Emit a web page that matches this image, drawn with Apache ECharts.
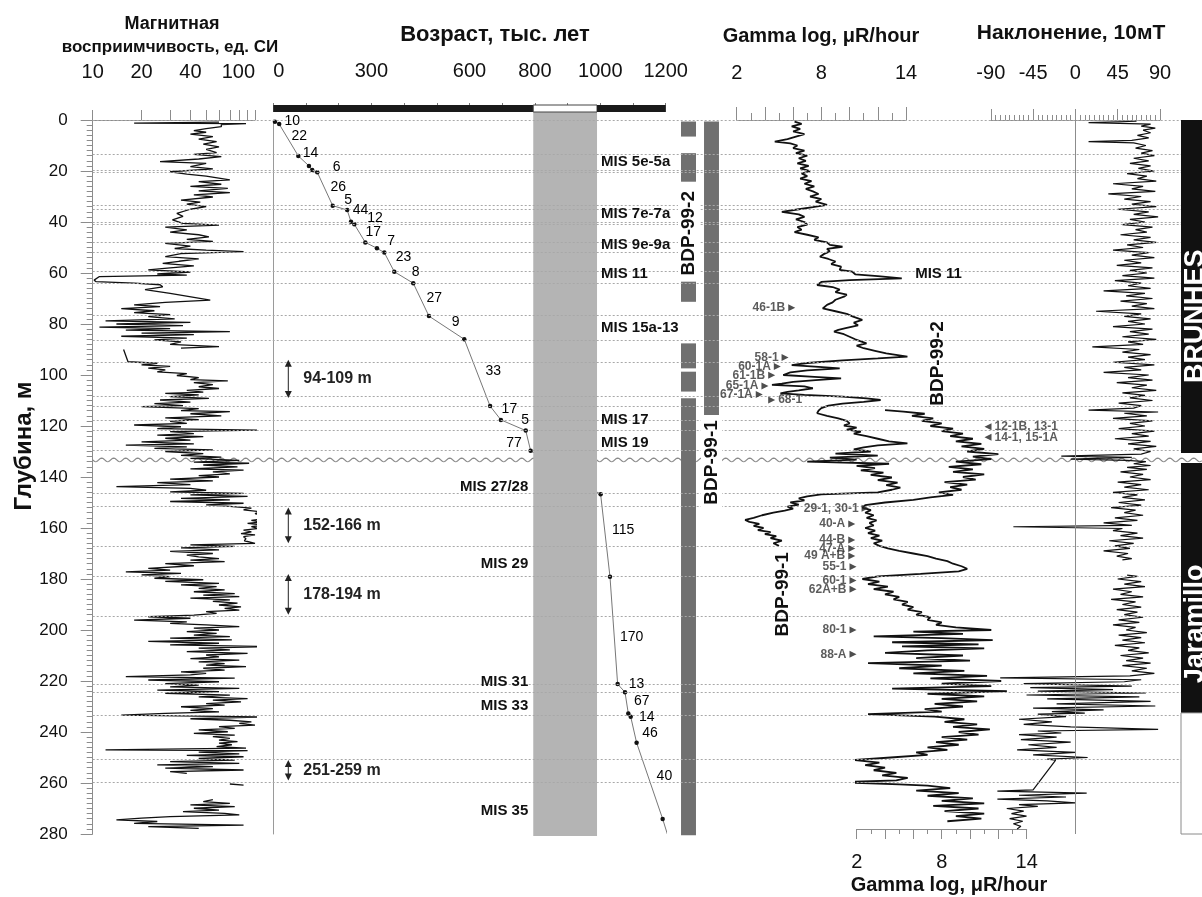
<!DOCTYPE html>
<html>
<head>
<meta charset="utf-8">
<script src="https://cdn.jsdelivr.net/npm/echarts@6/dist/echarts.min.js"></script>
<style>
html,body{margin:0;padding:0;background:#fff}
#chart{width:1202px;height:897px}
</style>
</head>
<body>
<div id="chart"></div>
<script>
const FONT = '"Liberation Sans", Arial, Helvetica, sans-serif';
const DEPTH_MAX = 280;

// ---------- data ----------
// magnetic susceptibility, [depth m, SI units]; null = no core
const magProfile = [
[0.8,60],[1.2,18],[1.4,88],[1.8,62],[2.6,62],[3.4,50],[4.2,42],[4.8,50],[5.5,40],[6.5,55],[7.5,45],[8.5,58],[9.5,48],[10.5,60],[11.5,50],[12.8,58],[13.5,42],[14.4,62],[15.3,45],[16.3,26],[17,50],[18.3,40],[19.2,55],[20.3,30],[21.2,38],[22,50],[23.5,70],[24.2,45],[25.2,62],[26,40],[26.8,68],[27.8,45],[28.5,70],[29.4,42],[30.2,55],[31.4,35],[32.2,46],[33,38],[34,50],[35,40],[36.6,33],[37.8,36],[39.2,31],[40.5,36],[41.2,60],[42,28],[43.1,38],[44,30],[45,45],[45.8,52],[46.8,38],[47.6,55],[48.4,28],[49.5,40],[50.4,32],[51,50],[51.6,85],[52.4,35],[53.6,28],[54.5,45],[55.4,34],[56.2,27],[57.2,42],[58,30],[58.8,22],[59.6,40],[60.4,25],[60.8,38],[61.4,11],[62.8,10.2],[63.4,10.5],[64,18],[64.6,26],[65.4,27],[66.5,21],[68,30],[70.6,53],[71.5,28],[72.5,18],[73.2,26],[74,15],[74.8,24],[75.5,18],[76.3,30],[77.1,22],[78,32],[78.8,12],[79.4,40],[80,14],[80.6,36],[81.2,11],[81.8,30],[82.4,16],[83,70],[83.6,20],[84.2,42],[84.8,15],[85.5,38],[86.2,24],[87,35],[88,30],[88.9,60],[89.5,35],
null,
[90,15.5],[94.8,16.5],[95.4,25],[96,20],[96.6,30],[97.3,22],[98,28],[98.8,25],[99.5,38],[100.2,33],[101,45],[101.8,40],[102.3,68],[103,42],[103.8,55],[104.6,45],[105.3,60],[106,38],[106.7,48],[107.2,28],[107.8,45],[108.5,30],[109.2,52],[109.8,26],[110.6,40],[111.2,24],[112,36],[112.4,20],[113.2,45],[114,35],[114.4,70],[115.2,40],[116,62],[116.8,28],[117.5,45],[118.2,30],[119,38],[119.6,18],[120.3,35],[121,25],[121.6,105],[122.2,30],[123,42],[123.6,25],[124.2,48],[124.8,28],[125.5,40],[126.2,20],[127,42],[127.5,16],[128.2,38],[128.8,24],[129.4,55],[130,28],[130.8,48],[131.5,35],[132.2,62],[132.7,40],[133.5,80],[134.2,42],[134.6,92],[135.3,48],[136,78],[136.8,40],[137.3,85],[138,55],[138.8,70],[139.5,45],[140,60],[140.8,30],[141.5,55],[142.2,25],[143,40],[143.8,14],[144.5,40],[145.2,50],[145.8,30],[146.4,85],[147,40],[147.6,90],[148.4,35],[149,70],[149.6,30],[150.3,85],[150.9,50],[151.5,70],[152.2,95],[152.9,85],[153.6,108],[154.4,100],[155,118],[155.6,110],[156.3,118],[157,95],[157.6,108],[158.2,90],[158.8,115],[159.5,95],[160.2,105],[160.8,85],[161.5,95],[162.2,82],[162.7,100],[163.4,85],[164.2,88],[165,86],[166,100],[166.6,40],[167.2,75],[167.8,35],[168.6,60],[169.2,30],[170,55],[170.6,38],[171.3,45],[172,60],[172.6,40],[173.2,65],[174,28],[174.8,42],[175.8,22],[176.5,30],[177.2,16],[177.8,35],[178.4,20],[179.1,30],[179.7,24],[180.3,48],[180.9,28],[181.7,60],[182.3,35],[183,58],[183.7,45],[184.3,65],[185,42],[185.7,75],[186.3,48],[186.9,80],[187.5,40],[188.2,70],[188.8,55],[189.5,78],[190.2,60],[190.9,82],[191.5,65],[192.2,80],[192.8,50],[193.5,58],[194.2,42],[194.8,22],[195.4,40],[196.1,18],[196.8,38],[197.4,30],[198,50],[198.7,80],[199.3,42],[200,60],[200.6,38],[201.3,58],[202,42],[202.6,70],[203.2,30],[203.9,72],[204.5,22],[205.2,60],[205.8,30],[206.5,120],[207.1,45],[207.8,70],[208.5,38],[209.2,90],[209.8,50],[210.5,60],[211.2,40],[211.8,80],[212.5,45],[213.2,65],[213.8,50],[214.4,88],[215,48],[215.7,65],[216.4,35],[217,50],[217.6,40],[218.3,16],[218.9,75],[219.6,22],[220.3,60],[221,28],[221.6,45],[222.3,30],[222.9,80],[223.6,25],[224.2,60],[224.8,28],[225.5,70],[226.2,45],[226.9,90],[227.5,55],[228.2,82],[228.9,50],[229.5,65],[230.1,35],[230.8,55],[231.5,40],[232.1,60],[232.7,28],[233.4,15],[234.1,110],[234.8,40],[235.4,70],[236,95],[236.6,80],[237.3,100],[237.9,60],[238.6,75],[239.2,45],[239.9,68],[240.5,42],[241.2,75],[241.8,55],[242.5,70],[243.2,60],[243.8,78],[244.4,60],[245,72],[245.7,58],[246.3,88],[247,12],[247.3,90],[247.9,45],[248.6,80],[249.2,38],[249.7,85],[250.4,45],[251,75],[251.6,30],[252.3,80],[252.9,25],[253.6,55],[254.2,28],[254.9,85],[255.5,30],[256.2,38],
null,
[260.4,70],[260.8,85],
null,
[266.5,55],[267.3,48],[268,70],[268.6,40],[269.3,75],[269.9,42],[270.6,60],[271.2,36],[271.9,65],[272.5,80],[273.2,30],[273.8,20],[274.5,14],[275.1,25],[275.8,18],[276.5,85],[277.1,22],[277.8,45]
];
const magTickValues = [10,20,30,40,50,60,70,80,90,100];
const magTickLabels = [10,20,40,100];

// age model: control points [age ka, depth m]; the last one only continues the line
const ageDepth = [[5,0.65],[18,1.6],[76.5,14.1],[109,18],[119,19.6],[134.5,20.5],[181.6,33.6],[226,35.3],[237.6,39.9],[247.8,40.9],[281.4,48],[317,50.3],[339.5,52],[370,59.5],[428,64],[476,76.9],[584,86],[663,112.2],[696,117.6],[772,121.8],[787,129.7],[1001,146.8],[1029.6,179.1],[1053,221.2],[1075.5,224.4],[1085.6,232.7],[1093,234],[1111,244.2],[1190.7,274.1],[1205,280]];
// sedimentation-rate annotations [text, age, depth]
const rateLabels = [['10',58,0.4],['22',79.5,6.5],['14',114,13.1],['6',194,18.3],['26',199,26.4],['5',229,31.6],['44',267,35.3],['12',311,38.5],['17',306,43.9],['7',360,47.7],['23',398,53.8],['8',435,59.5],['27',492,69.7],['9',558,79.3],['33',673,98.3],['17',722,113.3],['5',770,117.6],['77',736,126.8],['115',1070,161],['170',1096,202.9],['13',1111,221.3],['67',1127,227.8],['14',1142,234.2],['46',1152,240.5],['40',1196,257.3]];
const ageTickLabels = [0,300,600,800,1000,1200];
const hiatusAges = [795, 990];
const polarityBar = [[0,795,1],[795,990,0],[990,1200,1]];
const misRight = [['MIS 5e-5a',16.3],['MIS 7e-7a',37],['MIS 9e-9a',49],['MIS 11',60.5],['MIS 15a-13',81.7],['MIS 17',117.4],['MIS 19',126.5]];
const misLeft = [['MIS 27/28',143.8],['MIS 29',174.2],['MIS 31',220.3],['MIS 33',229.7],['MIS 35',270.9]];
const depthRanges = [[94,109,'94-109 m'],[152,166,'152-166 m'],[178,194,'178-194 m'],[251,259,'251-259 m']];

// recovered core intervals [top, bottom] m
const coreNames = ['BDP-99-2','BDP-99-1'];
const coreBdp992 = [[0.6,6.5],[13,24.2],[63.4,71.3],[87.6,97.4],[98.7,106.5],[109.1,280.5]];
const coreBdp991 = [[0.6,115.7]];
const coreLabels = [['BDP-99-2',0,44.4],['BDP-99-1',1,134.3]];

// gamma log, [depth m, µR/hour]
const gammaTop = [
[0.6,6.1],[1.5,6.6],[2.5,5.9],[3.5,6.5],[4.5,6.0],[5.5,6.8],[6.5,6.2],[7.5,5.6],[8.5,4.7],[9.2,5.8],[10,6.3],[11,6.0],[12,6.8],[13,6.2],[14,7.0],[15,6.4],[16,6.9],[17,6.3],[18,7.1],[19,6.5],[20,7.2],[21,6.6],[22,7.0],[23,6.5],[24,7.3],[25,6.8],[26,7.5],[27,6.9],[28,7.4],[29,7.8],[30,7.2],[31,8.0],[32,7.6],[33.3,8.4],[34.2,7.4],[35,6.4],[36,5.2],[37,6.4],[38,6.8],[39,6.2],[40,6.8],[41,7.0],[42,6.3],[43,6.6],[44,6.1],[45,7.0],[46,7.8],[47,7.5],[48,8.4],[49,8.6],[49.7,9.5],[50.5,8.4],[51.5,8.6],[52.5,8.2],[53.6,7.9],[54.5,8.5],[55.5,9.0],[56.5,8.7],[57.5,9.4],[58.8,9.3],[59.5,10.2],[60.5,10.4],[61.2,12.0],[62.1,13.7],[62.8,10.0],[63.5,8.0],[64.7,7.7],[65.5,8.8],[66.5,9.3],[67.5,9.0],[68.5,9.8],[69.3,9.6],[70.5,9.0],[71.5,8.8],[72.5,8.4],[73.9,8.1],[75,9.0],[76,9.8],[77,10.2],[78.4,10.9],[79.5,10.3],[80.5,10.6],[81.5,9.8],[82.3,9.2],[83,8.9],[84,9.6],[85,10.0],[86,10.4],[87,10.9],[87.6,11.2],[88.5,10.5],[89.5,11.0],[90.5,11.8],[91.5,12.6],[92.8,14.1],[93.5,12.0],[94.3,9.5],[95.3,7.0],[96.1,5.9],[96.8,7.8],[97.4,9.3],[98.2,7.0],[99,5.8],[100,5.3],[100.7,7.5],[101.3,9.4],[102,7.6],[102.7,6.0],[103.4,5.2],[103.9,4.5],[104.5,6.8],[105.2,7.4],[106,6.4],[106.6,5.6],[107.2,5.1],[107.8,6.8],[108.5,9.5],[109.2,11.2],[109.8,12.2],[110.5,11.0],[111.2,9.5],[112,8.5],[113,8.0],[114,7.8],[115,7.7],[116,8.4],[117,9.2],[118,9.8],[119,10.0],[119.8,9.6],[120.6,10.5],[121.4,9.8],[122.2,10.8],[123,10.3],[124,11.2],[125,12.0],[126,12.8],[126.8,14.1],[127.6,12.0],[128.4,11.0],[129.2,10.3],[130,11.5],[130.8,9.0],[131.6,12.0],[132.4,8.6],[133.2,10.5],[134,7.0],[134.8,12.8],[135.6,10.5],[136.5,11.8],[137.4,10.8],[138.3,12.4],[139.2,11.5],[140.2,13.0],[141.2,12.0],[142.2,13.4],[143.2,12.6],[144.2,13.6],[145,13.0],[146,12.0],[146.8,8.0],[147.6,7.0],[148.4,6.4],[149.2,6.8],[150,5.8],[150.8,6.4],[151.6,5.6],[152.4,6.0],[153.2,5.4],[154,4.6],[155,3.8],[156,3.2],[156.8,2.6],[157.6,2.9],[158.4,3.6],[159.2,3.2],[160,3.9],[160.8,3.5],[161.6,4.4],[162.4,4.0],[163.2,4.8],[164,4.4],[165,5.2],[166,4.6],[167,5.0]
];
const gammaBottom = [
[113.8,4.0],[114.4,5.3],[115.2,6.8],[116,5.9],[117,7.4],[118,6.6],[119,8.0],[120,7.2],[121,8.8],[122,8.0],[123,9.5],[124,8.6],[125,10.2],[126,9.0],[127,10.8],[128,9.4],[129,11.0],[130,9.8],[131,12.0],[132,10.2],[133,11.5],[134,9.0],[135,10.8],[136,8.5],[137,10.2],[138,8.8],[139,11.0],[140,9.5],[141,10.4],[142,8.2],[143,9.8],[144,8.6],[145,9.4],[146,7.8],[147,8.8],[148,7.2],[149,6.0],[150,4.0],[151,2.6],[152,2.4],[153,3.0],[154,2.6],[155,3.2],[156,2.7],[157,3.4],[158,2.9],[159,3.2],[160,2.6],[161,3.3],[162,2.8],[163,3.6],[164,3.0],[165,3.8],[166,3.2],[167,3.6],[168,4.2],[169,5.0],[170,6.0],[171,7.0],[172,7.6],[173,8.4],[174,8.8],[175,9.4],[176,9.8],[177,9.2],[178,6.5],[179,3.5],[180,2.4],[181,3.6],[182,2.8],[183,4.2],[184,3.2],[185,4.6],[186,4.0],[187,5.0],[188,4.6],[189,5.6],[190,5.2],[191,6.0],[192,5.6],[193,6.6],[194,6.2],[195,7.2],[196,7.0],[197,8.0],[198,7.6],[199,9.0],[200,11.5],[200.6,6.0],[201.5,9.5],[202.5,3.2],[203.2,8.0],[204,11.6],[204.8,4.5],[205.6,10.6],[206.4,5.2],[207.2,11.0],[208,7.0],[209,4.0],[210,9.5],[211,6.2],[212,10.0],[213,2.8],[214,8.0],[215,5.0],[216,9.6],[217,6.0],[218,11.2],[219,7.2],[220,12.2],[221,8.0],[222,11.5],[223,4.5],[224,12.6],[225,7.0],[226,11.0],[227,8.0],[228,10.5],[229,7.5],[230,9.5],[231,6.8],[232,8.0],[233,2.8],[234,7.5],[235,9.6],[236,8.2],[237,10.5],[238,8.8],[239,11.4],[240,9.2],[241,10.6],[242,8.0],[243,9.8],[244,7.6],[245,9.2],[246,7.0],[247,8.4],[248,6.2],[249,7.0],[250,4.4],[251,1.8],[252,3.6],[253,2.6],[254,4.0],[255,3.2],[256,4.8],[257,3.8],[258,5.6],[259,4.8],[259.6,1.4],[259.7,-8.1],[259.8,1.4],[260.5,5.0],[261,7.0],[262,8.6],[263,6.2],[264,9.2],[265,7.0],[266,10.2],[267,8.0],[268,11.0],[269,7.4],[270,10.6],[271,8.2],[272,11.0],[273,9.0],[274,10.8],[275,8.4]
];
const gammaTickLabels = [2,8,14];
// sampled horizons [sample, µR/hour at arrow, depth]
const tagsUpper = [['46-1B',5.9,73.6],['58-1',5.43,93.1],['60-1A',4.88,96.7],['61-1B',4.48,100.1],['65-1A',4.0,104.3],['67-1A',3.6,107.6]];
const tagsUpperAfter = [['68-1',4.48,109.8]];
const tagsLowerBack = [['12-1B, 13-1',11.27,120.3],['14-1, 15-1A',11.27,124.4]];
const tagsLower = [['29-1, 30-1',2.59,152.3],['40-A',1.65,158.4],['44-B',1.65,164.7],['47-A',1.65,168],['49 A+B',1.65,171],['55-1',1.74,175.2],['60-1',1.74,180.6],['62A+B',1.74,184],['80-1',1.74,200],['88-A',1.74,209.5]];
const gammaNames = [['BDP-99-1',5.28,186],['BDP-99-2',7.74,95.5]];
const gammaMis = [['MIS 11',14.65,60.4]];

// inclination after 10 mT cleaning, [depth m, degrees]
const inclination = [
[0.5,65],[1,14],[1.6,80],[2.4,70],[3.2,85],[4,72],[5,80],[6,66],[7,78],[8,60],[8.5,14],[9,62],[10,75],[11,64],[12,82],[13,70],[14,84],[15,62],[16,78],[17,58],[18,80],[19,67],[20,84],[21,55],[22,76],[23,66],[24,86],[25,40],[26,72],[27,60],[28,85],[29,35],[30,70],[31,52],[32,80],[33,60],[34,86],[35,45],[36,78],[37,62],[38,88],[39,58],[40,74],[41,50],[42,82],[43,64],[44,76],[45,48],[46,80],[47,62],[48,86],[49,55],[50,72],[51,40],[52,78],[53,60],[54,84],[55,52],[56,70],[57,44],[58,82],[59,58],[60,76],[61,50],[62,84],[63,42],[64,70],[65,56],[66,80],[67,30],[68,74],[69,54],[70,82],[71,48],[72,76],[73,60],[74,84],[75,22],[76,70],[77,52],[78,80],[79,56],[80,74],[81,40],[82,82],[83,58],[84,78],[85,50],[86,86],[87,56],[88,72],[89,18],[90,68],[91,50],[92,80],[93,56],[94,74],[95,40],[96,84],[97,52],[98,70],[99,30],[100,78],[101,56],[102,82],[103,44],[104,76],[105,60],[106,86],[107,50],[108,74],[109,58],[110,82],[111,46],[112,70],[113,62],[113.8,14],[114.5,88],[115,52],[116,76],[117,40],[118,82],[119,58],[120,74],[121,46],[122,84],[123,60],[124,78],[125,42],[126,80],[127,56],[128,86],[129,62],[130,80],[131,70],[131.8,-15],[132.3,60],[133,-5],[133.5,55],[134,75],
[134.8,62],[135.5,80],[136.2,55],[137,76],[138,48],[139,72],[140,58],[141,80],[142,45],[143,70],[144,52],[145,78],[146,40],[147,66],[148,50],[149,74],[150,46],[151,70],[152,38],[153,64],[154,52],[155,72],[156,42],[157,66],[158,30],[159,60],[159.5,-66],[160.2,50],[161,40],[162,66],[163,48],[164,72],[165,36],[166,62],[167,42],[168,58],[169,30],[170,56],[171,44],[172,60],[172.5,50],
null,
[178.5,55],[179,66],[180,45],[181,70],[182,52],[183,74],[184,40],[185,60],[186,48],[187,72],[188,38],[189,64],[190,50],[191,70],[192,44],[193,66],[194,52],[195,72],[196,46],[197,68],[198,40],[199,64],[200,54],[201,76],[202,46],[203,70],[204,50],[205,74],[206,42],[207,68],[208,56],[209,78],[210,48],[211,72],[212,54],[213,80],[214,50],[215,76],[216,60],[217,84],[218,58],[218.8,-80],[219.5,70],[220.3,52],[221,-55],[222,60],[222.6,-48],[223.4,40],[224,-40],[224.7,75],[225.5,-52],[226.2,68],[227,-30],[228,80],[229,-20],[229.8,85],[230.6,-45],[231.3,30],[232,-25],[232.6,10],
[233,-40],[234,-10],[235,-60],[236,-25],[237,-55],[238,-5],[239,88],[239.6,-40],[240.4,-15],[241,-60],[242,-20],[243,-58],[244,-5],[245,-50],[246,-20],[247,-62],[248,0],[249,-45],[250,13],[250.6,-30],[251,-21],[262.7,-45],[263.2,-83],[264,12],[264.8,-60],[265.5,-10],[266.3,-83],[267,-30],[267.8,0],[268.5,-60],[269.2,-40],[270,-73],[271,-55],[272,-68],[273,-52],[274,-70],[275,-56],[276,-66],[277,-58],[278,-62]
];

// polarity zones in depth [top, bottom, normal?]
const magStrat = [[0,130.6,1],[134.5,232.5,1],[232.5,280,0]];
const stratLabels = [['BRUNHES',77],['Jaramillo',197.6]];

// dotted correlation horizons and the unconformity, m
const horizonDepths = [0,13.4,19.6,20.4,33.3,34.9,40,40.8,47.8,52,59.2,63.9,76.7,86.3,94.9,108.2,112.4,117.9,121.8,129.7,146.4,151.6,167.3,178.8,194.5,221.2,224.4,233.3,250.6,259.7];
const unconformityDepth = 133.3;

// ---------- layout ----------
const TOP = 120, H = 714;
function grid(left, width, top, height) {
  return {left: left, width: width, top: top == null ? TOP : top, height: height == null ? H : height,
          containLabel: false, outerBoundsMode: 'none'};
}
const grids = [
  grid(92.7, 162.3),   // 0 susceptibility
  grid(273.3, 392.4),  // 1 age
  grid(273.3, 392.4, 105, 7), // 2 polarity strip + age ticks
  grid(677, 46),       // 3 cores
  grid(736.7, 169.3),  // 4 gamma (top scale)
  grid(856.7, 170),    // 5 gamma (bottom scale)
  grid(990.8, 169.2),  // 6 inclination
  grid(1181, 30),      // 7 polarity column
  grid(92.7, 1088.3),  // 8 horizons
  grid(92.7, 1109.3),  // 9 unconformity
  grid(856.7, 170, 819, 10) // 10 bottom gamma scale
];
const axisGray = '#8c8c8c';
const txt = '#111';
const plainNumber = v => String(v);
function depthAxis(i, extra) {
  return Object.assign({type: 'value', gridIndex: i, inverse: true, min: 0, max: DEPTH_MAX, show: false}, extra || {});
}
function hiddenX(i, min, max) { return {type: 'value', gridIndex: i, min: min, max: max, show: false}; }
function tickLabel(margin, custom, extra) {
  const o = Object.assign({show: true, fontSize: 20, color: txt, fontFamily: FONT, margin: margin, formatter: plainNumber}, extra || {});
  if (custom) o.customValues = custom;
  return o;
}

const xAxes = [
  {type: 'log', gridIndex: 0, logBase: 10, min: 10, max: 100, position: 'top', offset: 13,
   axisLine: {show: true, lineStyle: {color: axisGray}},
   axisTick: {show: true, length: 10, lineStyle: {color: axisGray}, customValues: magTickValues},
   axisLabel: tickLabel(25, magTickLabels, {alignMaxLabel: 'right'}), splitLine: {show: false}},
  hiddenX(1, 0, 1200),
  {type: 'value', gridIndex: 2, min: 0, max: 1200, interval: 100, position: 'top', offset: 1,
   axisLine: {show: false},
   axisTick: {show: true, length: 9, lineStyle: {color: '#777'}},
   minorTick: {show: true, splitNumber: 5, length: 4, lineStyle: {color: '#777'}},
   axisLabel: tickLabel(23, ageTickLabels, {alignMinLabel: 'left', showMaxLabel: true, hideOverlap: false}),
   splitLine: {show: false}},
  {type: 'category', gridIndex: 3, data: coreNames, show: false},
  {type: 'value', gridIndex: 4, min: 2, max: 14, interval: 2, position: 'top', offset: 10,
   axisLine: {show: true, lineStyle: {color: axisGray}},
   axisTick: {show: true, length: 13, lineStyle: {color: axisGray}},
   minorTick: {show: true, splitNumber: 2, length: 7, lineStyle: {color: axisGray}},
   axisLabel: tickLabel(27, gammaTickLabels), splitLine: {show: false}},
  hiddenX(5, 2, 14),
  {type: 'value', gridIndex: 6, min: -90, max: 90, interval: 45, position: 'top', offset: 10,
   axisLine: {show: true, lineStyle: {color: axisGray}},
   axisTick: {show: true, length: 11, lineStyle: {color: axisGray}},
   minorTick: {show: true, splitNumber: 9, length: 5, lineStyle: {color: axisGray}},
   axisLabel: tickLabel(27), splitLine: {show: false}},
  hiddenX(7, 0, 1),
  hiddenX(8, 0, 1),
  hiddenX(9, 0, 1),
  {type: 'value', gridIndex: 10, min: 2, max: 14, interval: 2, position: 'bottom', offset: 0,
   axisLine: {show: true, lineStyle: {color: axisGray}},
   axisTick: {show: true, length: 10, lineStyle: {color: axisGray}},
   minorTick: {show: true, splitNumber: 2, length: 5, lineStyle: {color: axisGray}},
   axisLabel: tickLabel(23, gammaTickLabels), splitLine: {show: false}}
];
const yAxes = [
  depthAxis(0, {show: true, interval: 20,
    axisLine: {show: true, lineStyle: {color: axisGray}},
    axisTick: {show: true, length: 12, lineStyle: {color: axisGray}},
    minorTick: {show: true, splitNumber: 10, length: 6, lineStyle: {color: axisGray}},
    axisLabel: {show: true, fontSize: 17, color: txt, fontFamily: FONT, margin: 25},
    splitLine: {show: false}}),
  depthAxis(1, {show: true, axisLine: {show: true, lineStyle: {color: '#9a9a9a'}},
    axisTick: {show: false}, axisLabel: {show: false}, splitLine: {show: false}}),
  {type: 'value', gridIndex: 2, min: 0, max: 1, show: false},
  depthAxis(3), depthAxis(4), depthAxis(5), depthAxis(6), depthAxis(7), depthAxis(8), depthAxis(9),
  {type: 'value', gridIndex: 10, min: 0, max: 1, show: false}
];

// ---------- helpers ----------
function profile(rows) { return rows.map(r => r ? [r[1], r[0]] : '-'); }
function labelPoints(rows, xi, di) {
  return rows.map(r => ({name: r[0], value: [r[xi], r[di]]}));
}
// text annotations anchored at [x value, depth] of a grid; rows are [text, x, depth]
function textLayer(gi, rows, o) {
  return {
    type: 'custom', xAxisIndex: gi, yAxisIndex: gi, silent: true, z: 6, clip: false,
    data: rows.map(r => [r[1], r[2]]),
    encode: {x: 0, y: 1},
    renderItem: function (params, api) {
      const p = api.coord([api.value(0), api.value(1)]);
      const style = {text: rows[params.dataIndex][0], font: o.font + ' ' + FONT, fill: o.fill || txt,
                     align: o.align || 'center', verticalAlign: 'middle'};
      if (o.bg) { style.backgroundColor = o.bg; style.padding = [1, 3]; }
      return {type: 'text', x: p[0] + (o.dx || 0), y: p[1], rotation: o.rotate || 0, style: style};
    }
  };
}
function tagSeries(gi, rows, rotate, labelPos) {
  return {
    type: 'scatter', xAxisIndex: gi, yAxisIndex: gi, clip: false, silent: true, z: 6,
    symbol: 'triangle', symbolSize: [7, 7], symbolRotate: rotate,
    itemStyle: {color: '#222'},
    data: labelPoints(rows, 1, 2),
    label: {show: true, position: labelPos, distance: 3, formatter: '{b}', fontSize: 12,
            fontWeight: 'bold', color: '#333', fontFamily: FONT}
  };
}
const UP = Math.PI / 2;

const series = [];

// correlation horizons
series.push({
  type: 'line', xAxisIndex: 8, yAxisIndex: 8, data: [], silent: true, z: 1,
  markLine: {silent: true, symbol: ['none', 'none'], animation: false,
    label: {show: false},
    lineStyle: {color: '#a8a8a8', type: [2, 2], width: 1},
    data: horizonDepths.map(d => ({yAxis: d}))}
});
// unconformity (wavy line)
series.push({
  type: 'custom', xAxisIndex: 9, yAxisIndex: 9, silent: true, z: 1, clip: false,
  data: [[0, unconformityDepth]],
  renderItem: function (params, api) {
    const cs = params.coordSys;
    const y0 = api.coord([0, api.value(1)])[1];
    const pts = [];
    for (let x = cs.x; x <= cs.x + cs.width; x += 1) {
      pts.push([x, y0 + 1.8 * Math.sin((x - cs.x) / 12 * 2 * Math.PI)]);
    }
    return {type: 'polyline', shape: {points: pts}, style: {stroke: '#8a8a8a', lineWidth: 1.2, fill: null}};
  }
});

// magnetic susceptibility
series.push({
  type: 'line', xAxisIndex: 0, yAxisIndex: 0, data: profile(magProfile), showSymbol: false,
  clip: false, z: 4, lineStyle: {color: '#111', width: 1.3}
});

// age model
series.push({
  type: 'line', xAxisIndex: 1, yAxisIndex: 1, z: 2,
  data: ageDepth.map((p, i) => ({value: p, symbolSize: i === ageDepth.length - 1 ? 0 : 4.5})),
  symbol: 'circle', itemStyle: {color: '#111'},
  lineStyle: {color: '#777', width: 1}
});
// hiatus band
series.push({
  type: 'custom', xAxisIndex: 1, yAxisIndex: 1, silent: true, z: 3, clip: false,
  data: [[hiatusAges[0], hiatusAges[1]]],
  renderItem: function (params, api) {
    const a = api.coord([api.value(0), DEPTH_MAX]);
    const b = api.coord([api.value(1), 0]);
    const top = params.coordSys.y - 8;
    return {type: 'rect', shape: {x: a[0], y: top, width: b[0] - a[0], height: a[1] + 2 - top},
            style: {fill: '#b4b4b4'}};
  }
});
// polarity strip above age scale
series.push({
  type: 'custom', xAxisIndex: 2, yAxisIndex: 2, silent: true, z: 3,
  data: polarityBar,
  renderItem: function (params, api) {
    const p = polarityBar[params.dataIndex];
    const a = api.coord([p[0], 0]), b = api.coord([p[1], 1]);
    return {type: 'rect', shape: {x: a[0], y: b[1], width: b[0] - a[0], height: a[1] - b[1]},
            style: p[2] ? {fill: '#1a1a1a'} : {fill: '#fff', stroke: '#444', lineWidth: 1}};
  }
});
series.push(textLayer(1, rateLabels, {font: '14px', fill: '#000'}));
series.push(textLayer(1, misRight.map(r => [r[0], hiatusAges[1], r[1]]), {font: 'bold 15px', align: 'left', dx: 4}));
series.push(textLayer(1, misLeft.map(r => [r[0], hiatusAges[0], r[1]]), {font: 'bold 15px', align: 'right', dx: -5}));
// depth-interval arrows
series.push({
  type: 'custom', xAxisIndex: 1, yAxisIndex: 1, silent: true, z: 5, clip: false,
  data: depthRanges.map(r => [r[0], r[1]]),
  renderItem: function (params, api) {
    const x = params.coordSys.x + 15;
    const y1 = api.coord([0, api.value(0)])[1];
    const y2 = api.coord([0, api.value(1)])[1];
    const c = '#222';
    return {type: 'group', children: [
      {type: 'line', shape: {x1: x, y1: y1 + 5, x2: x, y2: y2 - 5}, style: {stroke: c, lineWidth: 1}},
      {type: 'polygon', shape: {points: [[x, y1], [x - 3.5, y1 + 7], [x + 3.5, y1 + 7]]}, style: {fill: c}},
      {type: 'polygon', shape: {points: [[x, y2], [x - 3.5, y2 - 7], [x + 3.5, y2 - 7]]}, style: {fill: c}},
      {type: 'text', x: x + 15, y: (y1 + y2) / 2,
       style: {text: depthRanges[params.dataIndex][2], fill: c, font: 'bold 16px ' + FONT,
               align: 'left', verticalAlign: 'middle'}}
    ]};
  }
});

// cores
series.push({
  type: 'custom', xAxisIndex: 3, yAxisIndex: 3, silent: true, z: 3,
  data: coreBdp992.map(r => [0, r[0], r[1]]).concat(coreBdp991.map(r => [1, r[0], r[1]])),
  encode: {x: 0, y: [1, 2]},
  renderItem: function (params, api) {
    const t = api.coord([api.value(0), api.value(1)]);
    const b = api.coord([api.value(0), api.value(2)]);
    const w = api.size([1, 0])[0] * 0.65;
    return {type: 'rect', shape: {x: t[0] - w / 2, y: t[1], width: w, height: b[1] - t[1]},
            style: {fill: '#707070'}};
  }
});
series.push(textLayer(3, coreLabels.map(r => [r[0], r[1], r[2]]), {font: 'bold 19px', rotate: UP, bg: '#fff'}));

// gamma logs
series.push({
  type: 'line', xAxisIndex: 4, yAxisIndex: 4, data: profile(gammaTop), showSymbol: false,
  clip: false, z: 4, lineStyle: {color: '#111', width: 1.8}
});
series.push({
  type: 'line', xAxisIndex: 5, yAxisIndex: 5, data: profile(gammaBottom), showSymbol: false,
  clip: false, z: 4, lineStyle: {color: '#111', width: 1.8}
});
series.push(tagSeries(4, tagsUpper, -90, 'left'));
series.push(tagSeries(4, tagsUpperAfter, -90, 'right'));
series.push(tagSeries(5, tagsLowerBack, 90, 'right'));
series.push(tagSeries(5, tagsLower, -90, 'left'));
series.push(textLayer(4, gammaNames.slice(0, 1), {font: 'bold 19px', rotate: UP}));
series.push(textLayer(5, gammaNames.slice(1), {font: 'bold 19px', rotate: UP}));
series.push(textLayer(4, gammaMis, {font: 'bold 15px', align: 'left'}));

// inclination
series.push({
  type: 'line', xAxisIndex: 6, yAxisIndex: 6, data: profile(inclination), showSymbol: false,
  clip: false, z: 4, lineStyle: {color: '#111', width: 1.2},
  markLine: {silent: true, symbol: ['none', 'none'], animation: false, label: {show: false},
    lineStyle: {color: axisGray, type: 'solid', width: 1}, data: [{xAxis: 0}]}
});

// polarity column
series.push({
  type: 'custom', xAxisIndex: 7, yAxisIndex: 7, silent: true, z: 3,
  data: magStrat.map(s => [0, s[0], s[1]]),
  encode: {x: 0, y: [1, 2]},
  renderItem: function (params, api) {
    const s = magStrat[params.dataIndex];
    const a = api.coord([0, s[0]]), b = api.coord([1, s[1]]);
    return {type: 'rect', shape: {x: a[0], y: a[1], width: b[0] - a[0], height: b[1] - a[1]},
            style: s[2] ? {fill: '#111'} : {fill: '#fff', stroke: '#8a8a8a', lineWidth: 1}};
  }
});
series.push(textLayer(7, stratLabels.map(r => [r[0], 0.5, r[1]]), {font: 'bold 27px', rotate: UP, fill: '#fff'}));

// ---------- titles ----------
function title(text, x, y, size, rot) {
  const g = {type: 'text', x: x, y: y, silent: true,
    style: {text: text, font: 'bold ' + size + 'px ' + FONT, fill: '#111', align: 'center', verticalAlign: 'middle'}};
  if (rot) g.rotation = rot;
  return g;
}
const graphics = [
  title('Магнитная', 172, 24, 18),
  title('восприимчивость, ед. СИ', 170, 47, 17),
  title('Возраст, тыс. лет', 495, 35, 22),
  title('Gamma log, \u03bcR/hour', 821, 36, 20),
  title('Наклонение, 10мТ', 1071, 33, 21),
  title('Gamma log, \u03bcR/hour', 949, 885, 20),
  title('Глубина, м', 24, 446, 24, UP)
];

const chart = echarts.init(document.getElementById('chart'), null, {renderer: 'canvas'});
chart.setOption({
  animation: false,
  backgroundColor: '#fff',
  textStyle: {fontFamily: FONT},
  grid: grids,
  xAxis: xAxes,
  yAxis: yAxes,
  series: series,
  graphic: graphics
});
</script>
</body>
</html>
